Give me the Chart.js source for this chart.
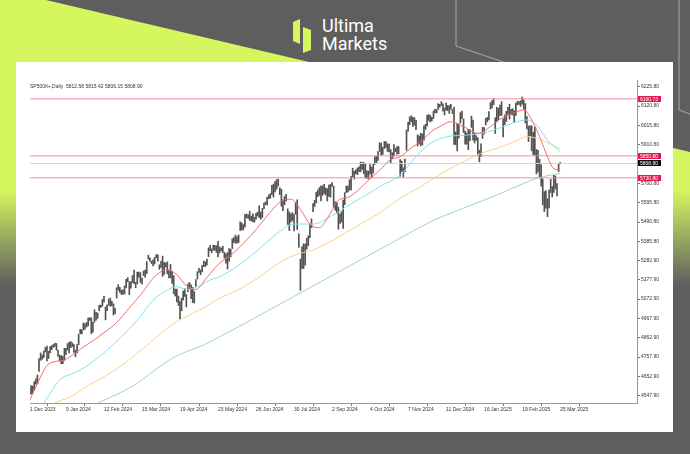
<!DOCTYPE html>
<html>
<head>
<meta charset="utf-8">
<script src="https://cdn.jsdelivr.net/npm/chart.js@4.4.1/dist/chart.umd.min.js"></script>
<style>
  html, body { margin: 0; padding: 0; }
  body { width: 690px; height: 454px; position: relative; overflow: hidden; background: #5e5e5e; }
  #lime { position: absolute; left: 0; top: 0; width: 690px; height: 454px;
    clip-path: polygon(0 0, 46px 0, 690px 152px, 690px 454px, 0 454px);
    background: linear-gradient(to bottom, #d5f65f 0, #d5f65f 190px, #5e5e5e 285px); }
  #deco { position: absolute; left: 0; top: 0; }
  #panel { position: absolute; left: 16px; top: 62px; width: 657px; height: 370px; background: #fff; }
  #chart { position: absolute; left: 0; top: 0; }
</style>
</head>
<body>
<div id="lime"></div>
<svg id="deco" width="690" height="454">
  <polyline points="456,0 456,46 545,76" fill="none" stroke="#a9a9a9" stroke-width="1"/>
  <polyline points="679,0 679,110 690,114" fill="none" stroke="#a9a9a9" stroke-width="1"/>
  <path d="M293,22 L300,19 L300,44 L293,41 Z" fill="#d5f65f"/>
  <path d="M303,27 L311,30 L311,50 L303,53 Z" fill="#d5f65f"/>
  <text x="322" y="32" fill="#fff" font-family="Roboto" font-size="18">Ultima</text>
  <text x="322" y="50" fill="#fff" font-family="Roboto" font-size="18">Markets</text>
</svg>
<div id="panel"></div>
<canvas id="chart" width="690" height="454"></canvas>
<script>
// SP500ft+ daily candles, one entry per bar (bar 0 = 4 Dec 2023, bar 336 = 25 Mar 2025)
const highs = [
  4600,4592,4603,4600,4624,4640,4660,4750,4780,4768,4790,4810,4818,4790,4815,4820,4826,4833,4831,4794,
  4769,4766,4761,4805,4805,4830,4838,4842,4835,4826,4794,4825,4882,4908,4906,4943,4938,4946,4969,4972,
  4971,4947,5015,5000,4997,5039,5040,5070,5088,5030,5042,5073,5078,5060,5047,5023,5134,5151,5137,5123,
  5121,5144,5180,5189,5167,5167,5200,5230,5164,5219,5219,5216,5186,5225,5230,5276,5311,5296,5279,5286,
  5299,5314,5313,5259,5278,5306,5272,5269,5275,5228,5261,5225,5200,5127,5127,5089,5059,5078,5116,5129,
  5097,5154,5163,5150,5136,5113,5179,5221,5240,5231,5255,5279,5275,5290,5351,5365,5345,5365,5364,5363,
  5386,5356,5350,5360,5327,5318,5325,5347,5343,5400,5407,5420,5410,5421,5492,5486,5477,5533,5535,5530,
  5550,5523,5535,5517,5538,5545,5579,5545,5565,5594,5600,5625,5638,5645,5690,5697,5710,5721,5724,5677,
  5669,5612,5630,5641,5563,5546,5535,5542,5532,5596,5612,5427,5290,5357,5373,5371,5403,5416,5481,5508,
  5591,5609,5653,5665,5678,5688,5687,5696,5676,5672,5691,5696,5705,5686,5601,5598,5572,5534,5547,5610,
  5650,5686,5686,5720,5739,5783,5766,5775,5785,5791,5817,5814,5815,5807,5769,5768,5803,5789,5807,5846,
  5847,5873,5921,5920,5896,5928,5928,5916,5914,5884,5867,5912,5892,5900,5901,5830,5822,5786,5833,5990,
  6033,6062,6068,6059,6058,6043,5965,5958,5973,5970,6014,6022,6070,6075,6070,6060,6094,6103,6102,6134,
  6130,6145,6133,6110,6137,6124,6124,6130,6102,6115,5980,6027,6023,6085,6094,6051,5985,5974,5994,5994,
  6066,6045,5973,5960,5948,5881,5916,6005,6004,6054,6060,6091,6140,6150,6160,6057,6114,6109,6126,6145,
  6052,6072,6092,6114,6131,6103,6106,6095,6136,6147,6145,6149,6170,6154,6134,6063,6012,6013,6014,5979,
  6007,5885,5880,5832,5803,5725,5656,5662,5617,5665,5723,5684,5745,5741,5700,5805,5815.42
];
const lows = [
  4558,4558,4556,4562,4578,4610,4612,4680,4740,4745,4755,4786,4737,4750,4780,4798,4810,4815,4795,4762,
  4737,4722,4722,4740,4771,4796,4780,4809,4815,4783,4759,4780,4825,4884,4884,4905,4909,4921,4927,4957,
  4885,4893,4947,4958,4968,5009,5027,5034,5056,4960,5010,5039,5034,5035,4986,4994,5078,5121,5108,5098,
  5098,5101,5134,5167,5097,5132,5161,5157,5134,5155,5191,5163,5154,5200,5191,5211,5290,5279,5266,5253,
  5263,5297,5279,5234,5244,5196,5207,5247,5210,5188,5188,5157,5102,5089,5057,5038,4965,5009,5067,5087,
  5030,5113,5128,5075,5053,5051,5142,5182,5218,5205,5220,5249,5249,5258,5303,5336,5324,5339,5337,5326,
  5302,5323,5335,5325,5296,5267,5236,5279,5302,5347,5380,5376,5376,5380,5445,5448,5448,5465,5513,5510,
  5500,5497,5492,5491,5506,5524,5515,5506,5516,5564,5585,5584,5618,5620,5641,5626,5654,5669,5686,5639,
  5577,5552,5585,5605,5478,5445,5492,5499,5443,5533,5450,5353,5120,5238,5239,5257,5344,5363,5406,5460,
  5547,5575,5595,5629,5636,5605,5635,5647,5638,5605,5630,5626,5685,5571,5555,5540,5452,5484,5491,5456,
  5585,5651,5654,5664,5665,5736,5724,5754,5748,5764,5764,5777,5753,5731,5728,5725,5752,5733,5757,5804,
  5812,5825,5874,5854,5858,5890,5896,5874,5871,5812,5834,5849,5873,5860,5862,5740,5765,5736,5764,5880,
  5985,6020,6036,6010,6016,5992,5903,5915,5904,5910,5936,5994,6013,6042,6034,6040,6053,6084,6084,6102,
  6115,6124,6093,6072,6098,6095,6081,6104,6080,5912,5911,5877,5947,6028,6052,5977,5914,5913,5884,5933,
  6005,5935,5920,5935,5853,5818,5847,5945,5970,6018,6035,6046,6104,6110,6128,5972,6035,6045,6069,6070,
  5953,6020,6037,6076,6050,6074,6072,6033,6070,6127,6130,6119,6131,6104,6029,5997,5928,5956,5878,5857,
  5854,5752,5763,5731,5686,5584,5548,5566,5520,5567,5651,5627,5652,5671,5633,5765,5806.15
];

// moving averages: [bar, value]
const maRed = [[1,4520],[7,4633],[12,4712],[17,4733],[23,4742],[30,4780],[36,4818],[42,4852],[48,4890],[56,4945],
  [64,5025],[72,5105],[80,5195],[88,5232],[94,5205],[100,5145],[106,5125],[113,5190],[121,5268],[128,5310],
  [136,5375],[144,5450],[152,5535],[160,5605],[166,5615],[172,5560],[178,5480],[184,5460],[190,5525],[196,5610],
  [202,5625],[208,5660],[214,5710],[222,5772],[229,5830],[235,5846],[243,5900],[248,5927],[255,5985],[260,6009],
  [267,6036],[275,6009],[284,5973],[292,6009],[298,6050],[306,6081],[313,6099],[319,6030],[323,5955],[328,5846],
  [332,5780],[336,5774]];
const maCyan = [[5,4470],[10,4510],[20,4633],[31,4678],[41,4732],[50,4796],[59,4868],[69,4958],[79,5067],[88,5122],
  [94,5140],[100,5125],[107,5140],[115,5176],[121,5194],[132,5250],[144,5330],[156,5420],[168,5480],[180,5480],
  [192,5525],[204,5590],[216,5650],[222,5683],[235,5746],[245,5846],[254,5918],[265,5955],[277,5963],[286,5973],
  [294,5990],[303,6018],[309,6036],[315,6045],[322,6009],[328,5936],[336,5873]];
const maOrange = [[10,4470],[17,4508],[27,4543],[37,4597],[48,4651],[58,4705],[69,4778],[79,4850],[88,4915],[96,4960],
  [104,4995],[112,5030],[121,5077],[132,5120],[144,5180],[156,5255],[168,5310],[180,5340],[192,5390],[204,5450],
  [216,5510],[222,5540],[235,5620],[248,5683],[262,5760],[275,5818],[286,5864],[296,5891],[307,5927],[315,5955],
  [323,5940],[336,5889]];
const maGreen = [[38,4480],[44,4508],[58,4563],[69,4615],[79,4680],[90,4745],[100,4787],[111,4823],[121,4868],[132,4918],
  [144,4974],[156,5031],[168,5087],[180,5144],[192,5200],[204,5257],[216,5314],[228,5370],[240,5427],[256,5500],
  [270,5550],[285,5600],[298,5645],[310,5690],[322,5730],[336,5755]];

const levels = [6160.73, 5850.80, 5730.80];
const lastClose = 5808.90;
const titleText = 'SP500ft+,Daily  5812.58 5815.42 5806.15 5808.90';

const xTickBars = [1.3, 24, 48, 72, 96, 120, 144, 168, 192, 216, 240, 264, 288, 312, 336];
const xTickLabels = ['1 Dec 2023','9 Jan 2024','12 Feb 2024','15 Mar 2024','19 Apr 2024','23 May 2024','26 Jun 2024',
  '30 Jul 2024','2 Sep 2024','4 Oct 2024','7 Nov 2024','11 Dec 2024','16 Jan 2025','19 Feb 2025','25 Mar 2025'];
const yTickVals = [6225.8, 6120.8, 6015.8, 5910.8, 5700.8, 5595.8, 5490.8, 5385.8, 5282.9, 5177.9,
  5072.9, 4967.9, 4862.9, 4757.9, 4652.9, 4547.9];

const X_MIN = 1.3, X_MAX = 384.5;
const small = { size: 5, family: 'Liberation Sans' };

function maSet(points, color) {
  return {
    type: 'line', data: points.map(p => ({ x: p[0], y: p[1] })),
    borderColor: color, borderWidth: 1, pointRadius: 0, cubicInterpolationMode: 'monotone'
  };
}
function levelSet(v, color, w) {
  return { type: 'line', data: [{ x: X_MIN, y: v }, { x: X_MAX, y: v }], borderColor: color, borderWidth: w, pointRadius: 0 };
}

// title and price labels on the right axis
const overlay = {
  id: 'overlay',
  afterDraw(chart) {
    const { ctx, chartArea, scales } = chart;
    ctx.save();
    ctx.font = '5px "Liberation Sans"';
    ctx.textBaseline = 'middle';
    ctx.fillStyle = '#333';
    ctx.fillText(titleText, chartArea.left, 87);
    const tags = levels.map(v => [v, '#e2194c']).concat([[lastClose, '#111']]);
    tags.forEach(t => {
      const py = Math.round(scales.y.getPixelForValue(t[0]));
      ctx.fillStyle = t[1];
      ctx.fillRect(chartArea.right + 1, py - 3, 23, 6);
      ctx.fillStyle = '#fff';
      ctx.fillText(t[0].toFixed(2), chartArea.right + 3, py + 0.5);
    });
    ctx.restore();
  }
};

new Chart(document.getElementById('chart'), {
  type: 'bar',
  data: {
    datasets: [
      maSet(maRed, '#f26d6d'),
      maSet(maCyan, '#7ee3ea'),
      maSet(maOrange, '#fcd08a'),
      maSet(maGreen, '#9fd8b0'),
      levelSet(levels[0], 'rgba(240,130,155,0.6)', 1.5),
      levelSet(levels[1], 'rgba(240,130,155,0.6)', 1.5),
      levelSet(levels[2], 'rgba(240,130,155,0.6)', 1.5),
      levelSet(lastClose, '#d4d4d4', 1),
      {
        type: 'bar', data: highs.map((h, i) => ({ x: i, y: [lows[i], h] })),
        backgroundColor: '#525252', barThickness: 1, clip: 0
      }
    ]
  },
  options: {
    responsive: false, animation: false, devicePixelRatio: 1,
    layout: { padding: { left: 30, top: 80, right: 17, bottom: 31 } },
    plugins: { legend: { display: false }, tooltip: { enabled: false } },
    scales: {
      x: {
        type: 'linear', min: X_MIN, max: X_MAX, offset: false,
        grid: { drawOnChartArea: false, tickLength: 3, color: '#777' },
        border: { color: '#999' },
        ticks: { autoSkip: false, maxRotation: 0, align: 'start', padding: 1, font: small, color: '#333',
          callback: (v, i) => xTickLabels[i] },
        afterBuildTicks: s => { s.ticks = xTickBars.map(v => ({ value: v })); },
        afterFit: s => { s.height = 20; }
      },
      y: {
        position: 'right', min: 4508.3, max: 6262.2,
        grid: { drawOnChartArea: false, tickLength: 3, color: '#777' },
        border: { color: '#999' },
        ticks: { padding: 1, font: small, color: '#333', callback: v => v.toFixed(2) },
        afterBuildTicks: s => { s.ticks = yTickVals.map(v => ({ value: v })); },
        afterFit: s => { s.width = 36; }
      }
    }
  },
  plugins: [overlay]
});
</script>
</body>
</html>
